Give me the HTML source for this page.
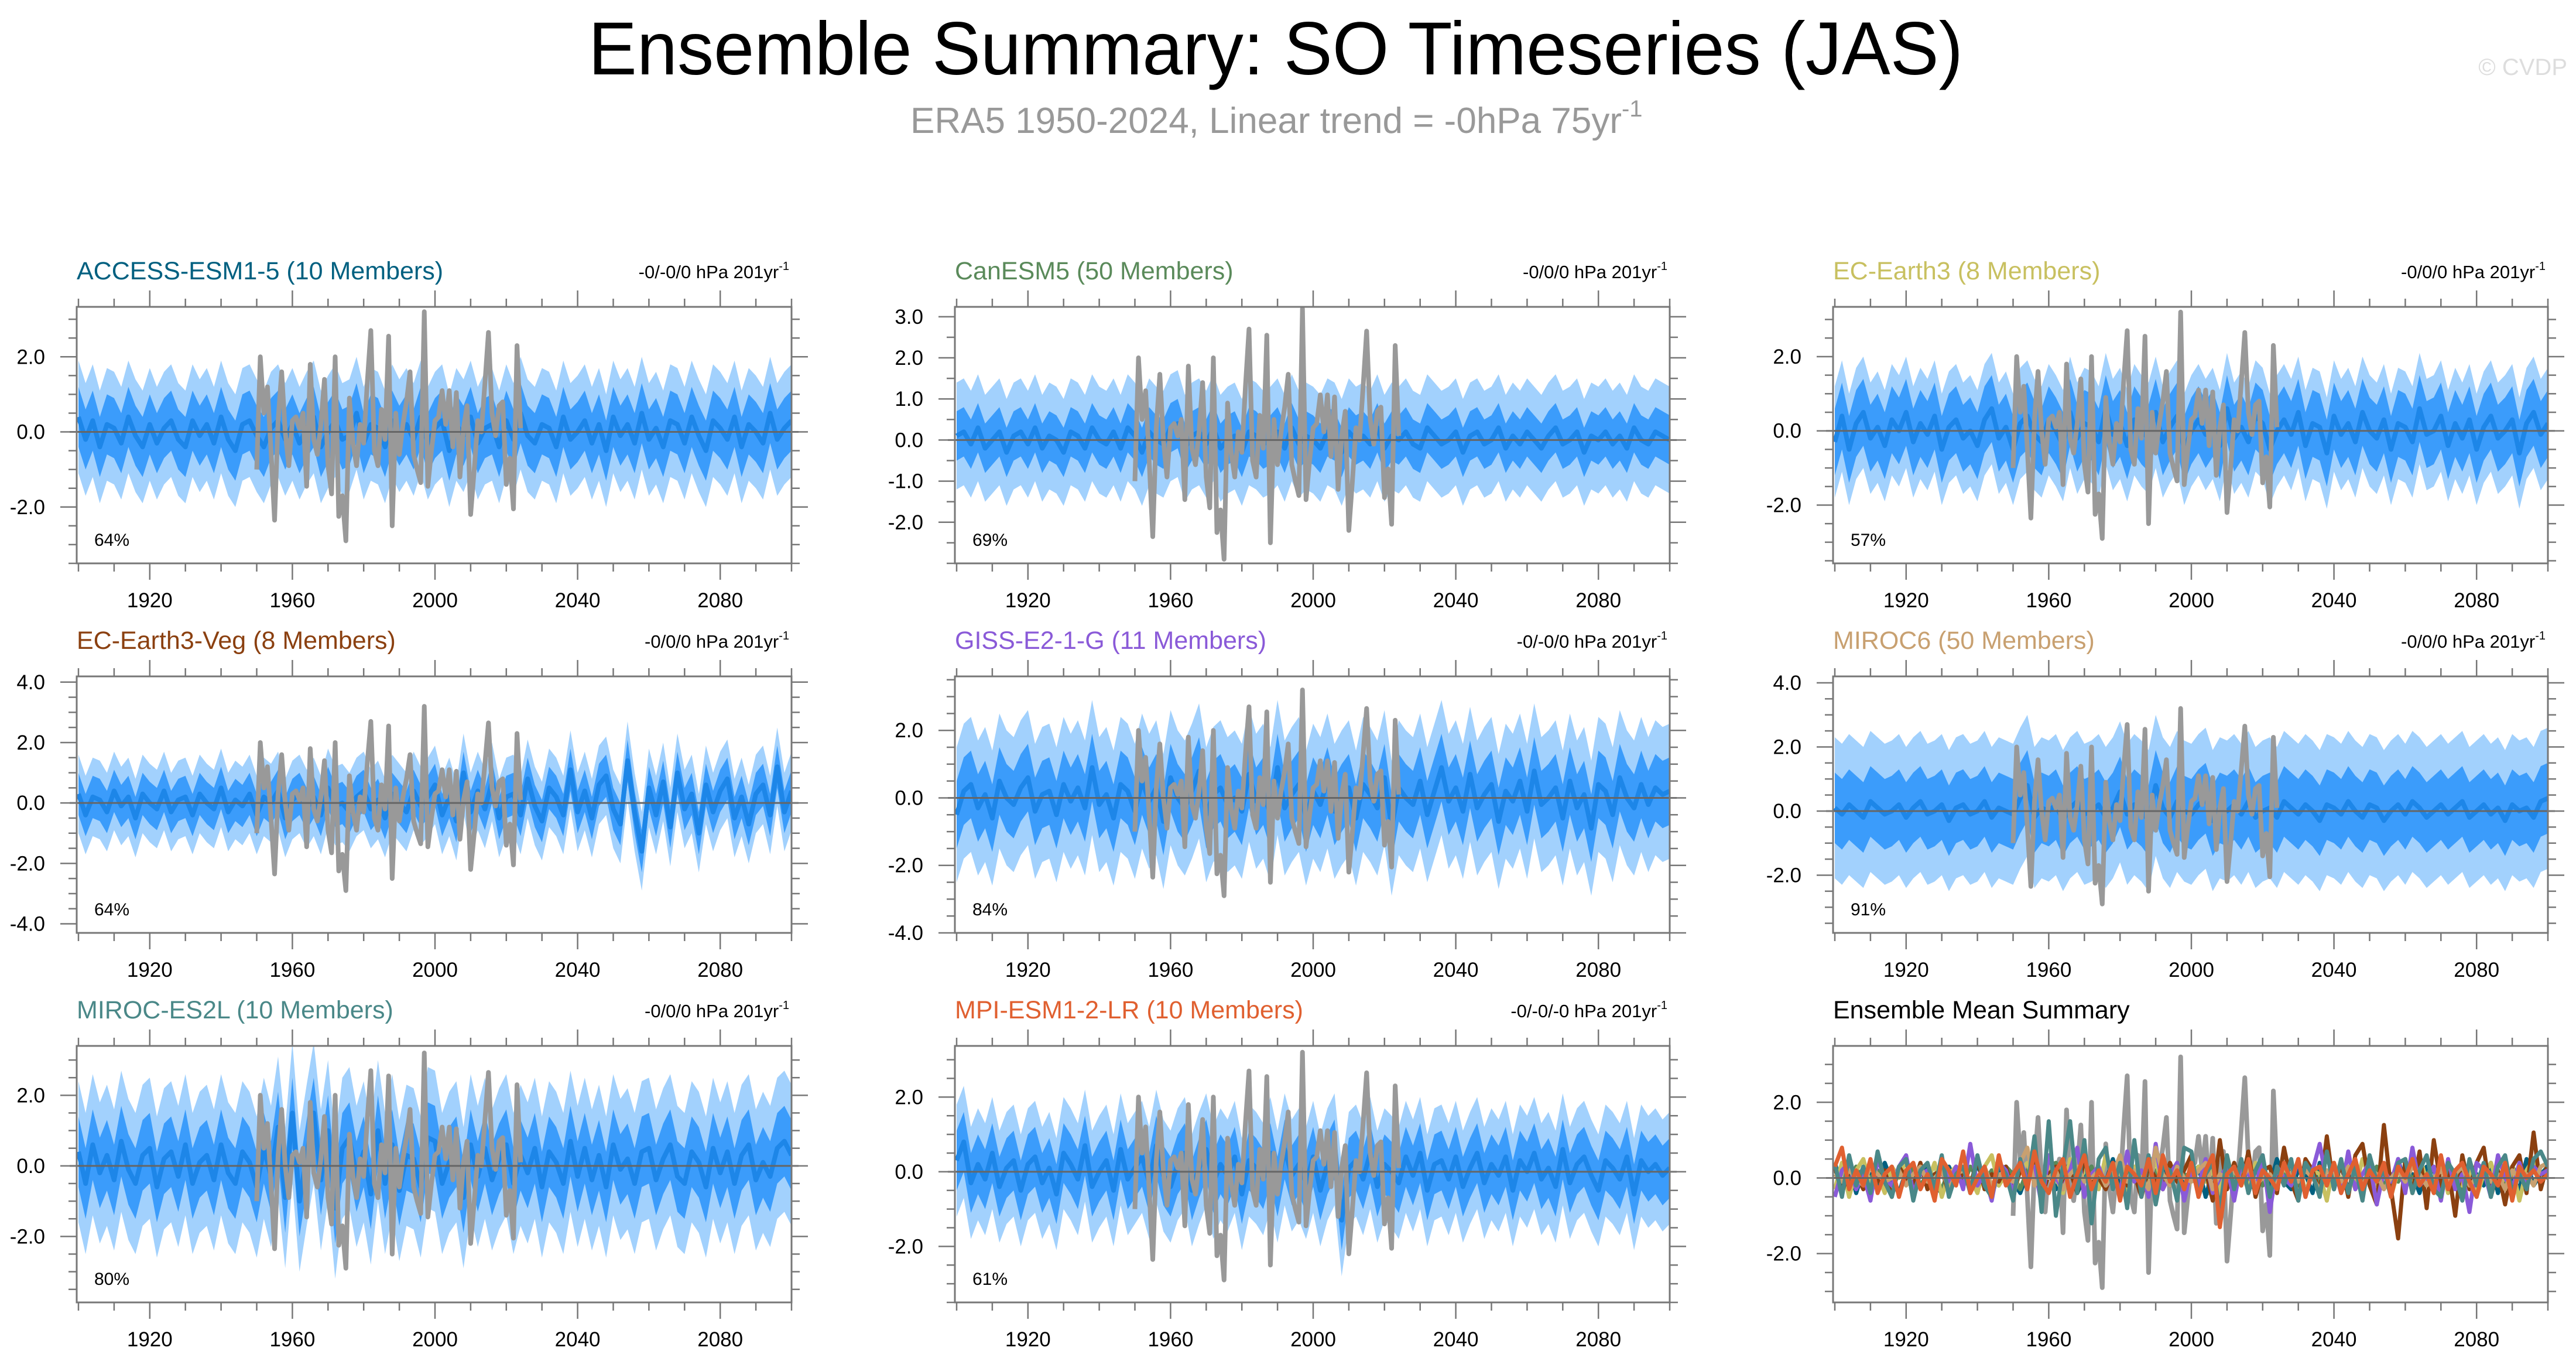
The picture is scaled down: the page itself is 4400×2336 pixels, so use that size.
<!DOCTYPE html>
<html><head><meta charset="utf-8">
<style>
html,body{margin:0;padding:0;background:#fff;}
svg{display:block;font-family:"Liberation Sans",sans-serif;}
</style></head>
<body>
<svg id="chart" xmlns="http://www.w3.org/2000/svg" width="4400" height="2336" viewBox="0 0 4400 2336">
<rect width="4400" height="2336" fill="#fff"/>
<text x="1005" y="127" font-size="128" textLength="2348" lengthAdjust="spacingAndGlyphs" fill="#000">Ensemble Summary: SO Timeseries (JAS)</text>
<text x="1555" y="227" font-size="62" fill="#999">ERA5 1950-2024, Linear trend = -0hPa 75yr<tspan font-size="40" dy="-28">-1</tspan></text>
<text x="4385" y="128" font-size="40" text-anchor="end" fill="#ddd">© CVDP</text>
<g id="panels"></g>
</svg>
<script>
const modelNames = ["ACCESS-ESM1-5 (10 Members)","CanESM5 (50 Members)","EC-Earth3 (8 Members)","EC-Earth3-Veg (8 Members)","GISS-E2-1-G (11 Members)","MIROC6 (50 Members)","MIROC-ES2L (10 Members)","MPI-ESM1-2-LR (10 Members)"];
const modelColors = ["#006080","#5a8a5a","#c8c060","#8b4010","#8a5ad8","#c8a070","#4a8888","#e06030"];
const trendLabels = ["-0/-0/0","-0/0/0","-0/0/0","-0/0/0","-0/-0/0","-0/0/0","-0/0/0","-0/-0/-0"];
const pctLabels = ["64%","69%","57%","64%","84%","91%","80%","61%"];
const innerSpread = [0.8,0.6,0.9,0.7,1.0,1.1,1.0,0.8];
const outerSpread = [1.5,1.3,1.5,1.3,2.0,2.2,2.0,1.5];
const yMins = [-3.5,-3.0,-3.57,-4.3,-4.0,-3.8,-3.87,-3.5,-3.29];
const yMaxs = [3.33,3.24,3.34,4.19,3.6,4.2,3.4,3.37,3.49];
const yTickSets = [[-2,0,2],[-2,-1,0,1,2,3],[-2,0,2],[-4,-2,0,2,4],[-4,-2,0,2],[-2,0,2,4],[-2,0,2],[-2,0,2],[-2,0,2]];
const xTickLabels = [1920,1960,2000,2040,2080];
const meanYearStart = 1900, meanYearStep = 2;
const obsYearStart = 1950;
const obsValues = [-1.0,2.0,0.5,1.2,-0.5,-2.35,0.3,1.6,0.0,-0.9,0.3,0.4,0.1,0.5,-1.45,1.8,-0.2,-0.6,0.2,1.4,-0.9,-1.65,2.0,-2.25,-1.7,-2.9,0.9,-0.3,-0.9,0.2,-0.3,1.3,2.7,-0.5,-0.9,0.6,-0.2,2.55,-2.5,0.5,-0.6,0.2,0.8,1.6,-0.6,-1.0,-1.35,3.2,-1.45,-0.5,0.3,0.4,1.1,0.2,1.1,-0.4,1.05,-1.2,0.1,0.7,-2.2,-1.0,0.3,0.0,1.3,2.65,0.5,-0.1,0.7,0.8,-1.4,-0.7,-2.05,2.3,0.1];
const meanACCESS = [0.4,-0.2,0.3,-0.4,0.2,0.1,-0.3,0.4,-0.1,-0.4,0.2,-0.3,0.1,0.3,-0.2,-0.4,0.3,-0.1,0.2,-0.3,0.4,-0.2,-0.5,0.2,0.3,-0.1,-0.4,0.1,0.3,-0.2,0.2,-0.3,0.1,0.4,-0.4,0.0,0.3,-0.2,-0.1,0.5,-0.3,0.2,0.1,-0.4,0.3,-0.1,0.2,-0.2,0.4,-0.3,0.1,0.3,-0.5,0.2,-0.1,0.4,-0.3,0.1,0.2,-0.4,0.3,-0.2,0.5,-0.1,-0.3,0.2,0.1,-0.4,0.4,-0.2,0.0,0.3,-0.3,0.2,-0.5,0.4,-0.1,0.2,-0.3,0.5,-0.2,0.1,-0.4,0.3,0.2,-0.3,0.4,-0.1,-0.5,0.3,0.1,-0.2,0.4,-0.4,0.2,0.0,-0.3,0.5,-0.2,0.1,0.3];
const meanCanESM5 = [0.1,0.2,-0.1,0.3,-0.2,0.0,0.2,-0.3,0.1,0.2,-0.1,0.3,-0.2,0.1,0.0,-0.3,0.2,0.1,-0.2,0.3,0.0,-0.1,0.2,-0.2,0.3,0.1,-0.3,0.2,0.0,-0.1,0.3,0.4,-0.2,0.1,0.2,-0.1,0.3,-0.2,0.0,0.1,-0.3,0.2,0.1,-0.1,0.0,0.2,-0.2,0.3,-0.1,0.1,0.0,-0.2,0.2,0.1,-0.3,0.2,0.0,0.1,-0.1,0.3,-0.2,0.1,0.0,0.2,-0.1,-0.2,0.3,0.1,-0.1,0.0,0.2,-0.3,0.1,0.2,-0.1,0.0,0.3,-0.2,0.1,-0.1,0.2,0.0,-0.2,0.1,0.3,-0.1,0.0,0.2,-0.3,0.1,0.0,0.2,-0.1,0.1,-0.2,0.3,0.0,-0.1,0.2,0.1,0.0];
const meanECEarth3 = [-0.3,0.4,-0.5,0.2,0.5,-0.2,0.1,-0.4,0.3,0.0,0.5,-0.3,0.2,-0.1,0.4,-0.5,0.1,0.3,-0.2,0.0,-0.4,0.3,0.6,-0.2,0.1,-0.5,0.2,0.4,-0.1,-0.3,0.3,0.0,-0.4,0.5,-0.2,0.2,0.1,-0.3,0.6,-0.1,0.2,-0.4,0.3,0.0,-0.2,0.5,-0.3,0.1,0.4,-0.5,0.0,0.3,-0.1,0.2,-0.4,0.6,-0.2,0.1,-0.3,0.4,0.2,-0.5,0.0,0.3,-0.1,0.5,-0.4,0.2,0.1,-0.6,0.4,-0.1,0.2,-0.3,0.5,0.0,-0.2,0.3,-0.5,0.2,0.1,-0.3,0.6,-0.1,0.0,0.4,-0.4,0.2,-0.2,0.3,-0.5,0.1,0.4,-0.2,0.0,0.3,-0.6,0.2,0.5,-0.1,0.2];
const meanECEarth3Veg = [0.3,-0.4,0.2,0.1,-0.3,0.4,-0.1,0.2,-0.5,0.3,0.0,-0.2,0.4,-0.3,0.1,0.2,-0.4,0.3,0.0,-0.2,0.5,-0.3,0.1,-0.1,0.3,-0.4,0.2,0.0,0.4,-0.5,0.1,0.3,-0.2,0.2,-0.4,0.5,-0.1,0.0,-0.3,0.2,0.4,-0.2,0.1,-0.5,0.3,0.0,-0.3,0.4,-0.1,0.2,0.6,-0.4,0.2,-0.6,1.0,-0.3,0.4,-0.2,0.7,-0.5,0.2,0.3,-0.4,0.8,-0.1,-0.6,0.5,0.2,-0.4,1.1,-0.3,0.4,-0.5,0.6,0.9,-0.2,-0.7,1.4,-0.3,-1.6,0.5,-0.4,0.7,-0.8,1.0,-0.2,0.3,-1.0,0.6,-0.3,0.4,0.8,-0.5,0.2,-0.7,0.3,0.6,-0.4,1.2,-0.3,0.4];
const meanGISS = [-0.5,0.2,0.4,-0.3,0.1,-0.6,0.5,0.0,-0.2,0.3,0.6,-0.4,0.1,0.2,-0.5,0.4,-0.1,0.3,-0.3,0.9,-0.2,0.1,-0.6,0.4,0.2,-0.4,0.5,-0.1,0.3,-0.7,0.6,0.0,-0.3,0.2,0.8,-0.5,0.1,0.3,-0.2,0.0,-0.4,0.7,-0.1,0.2,-0.5,0.9,-0.3,0.1,0.4,-0.6,0.2,-0.2,0.5,-0.4,0.0,0.3,-0.6,0.4,0.1,-0.3,0.6,-0.9,0.3,0.0,-0.2,0.5,-0.5,0.2,0.9,-0.1,0.3,-0.4,0.7,-0.3,0.1,0.4,-0.7,0.2,-0.1,0.5,-0.4,0.8,-0.2,0.0,0.3,-0.6,0.5,-0.3,0.1,-0.9,0.4,0.2,-0.5,0.6,0.0,-0.3,0.4,-0.2,0.3,0.1,0.2];
const meanMIROC6 = [0.1,-0.1,0.2,0.0,-0.2,0.3,0.1,-0.1,0.0,0.2,-0.2,0.1,0.3,-0.1,0.0,0.2,-0.3,0.1,0.2,-0.1,0.0,0.3,-0.2,0.1,0.0,-0.1,0.4,0.8,-0.2,0.1,0.0,0.2,-0.3,0.1,0.3,-0.1,0.0,0.2,-0.2,0.1,0.6,-0.1,0.2,0.0,-0.3,0.8,0.1,-0.2,0.3,0.0,-0.1,0.2,0.4,-0.3,0.1,0.0,0.2,-0.1,0.3,-0.2,0.0,0.1,-0.2,0.3,0.1,-0.1,0.2,0.0,-0.3,0.2,0.1,-0.1,0.3,0.0,-0.2,0.2,0.1,-0.3,0.0,0.2,-0.1,0.3,0.1,-0.2,0.0,0.2,-0.1,0.1,0.3,-0.2,0.0,0.2,-0.1,0.1,-0.3,0.2,0.0,0.1,-0.2,0.3,0.4];
const meanMIROCES2L = [0.4,-0.5,0.6,-0.2,0.3,-0.4,0.7,-0.1,-0.5,0.3,0.5,-0.6,0.2,0.4,-0.3,0.6,-0.5,0.1,0.3,-0.4,0.6,-0.2,-0.5,0.4,0.1,-0.6,0.5,-0.3,1.1,-0.9,1.5,-1.0,0.3,1.5,-0.4,1.0,-1.2,0.5,0.8,-0.3,0.4,-0.8,1.0,-0.5,0.6,-0.7,0.3,0.2,-0.6,0.8,0.7,-0.5,0.1,0.4,-0.9,0.6,-0.3,0.5,-0.4,0.2,0.6,-0.5,0.3,-0.2,0.5,-0.6,0.4,0.1,-0.5,0.7,-0.3,0.5,-0.4,0.3,-0.6,0.6,-0.1,0.2,-0.5,0.4,0.5,-0.4,0.2,0.6,-0.3,-0.5,0.4,0.1,-0.6,0.5,-0.2,0.4,-0.5,0.3,0.6,-0.4,0.1,-0.3,0.5,0.7,0.3];
const meanMPI = [0.3,0.8,-0.3,0.2,-0.2,0.5,-0.4,0.1,0.3,-0.5,0.2,0.4,-0.3,0.1,-0.6,0.5,0.2,-0.2,0.7,-0.4,0.0,0.3,-0.5,0.6,-0.2,0.1,0.4,-0.3,0.7,-0.1,-0.4,0.2,0.5,-0.5,0.1,0.6,-0.3,0.2,-0.1,0.4,-0.6,0.3,0.1,-0.2,0.5,-0.4,0.6,-0.1,0.2,-0.3,0.4,-0.5,0.2,0.6,-1.3,0.1,0.3,-0.2,0.5,-0.4,0.2,0.0,-0.3,0.4,-0.1,0.5,-0.5,0.2,0.3,-0.2,0.4,-0.4,0.1,0.5,-0.3,0.2,-0.1,0.4,-0.5,0.3,0.0,0.5,-0.2,0.1,-0.4,0.6,-0.3,0.2,0.4,-0.1,-0.5,0.3,0.1,-0.2,0.4,-0.6,0.3,0.0,0.2,-0.1,0.1];
const modelMeans = [meanACCESS,meanCanESM5,meanECEarth3,meanECEarth3Veg,meanGISS,meanMIROC6,meanMIROCES2L,meanMPI];

const NS = "http://www.w3.org/2000/svg";
const colX = [131,1631,3131], rowY = [524,1155,1786];
const PW = 1221, PH = 438;
const root = document.getElementById("panels");
function mk(tag, attrs, parent){ const e=document.createElementNS(NS,tag); for(const k in attrs) e.setAttribute(k,attrs[k]); (parent||root).appendChild(e); return e; }

for(let p=0;p<9;p++){
  const x0 = colX[p%3], y0 = rowY[Math.floor(p/3)];
  const ymin = yMins[p], ymax = yMaxs[p];
  const xs = yr => x0 + 3 + (yr-1900)/200*(PW-3);
  const ys = v => y0 + (ymax - v)/(ymax-ymin)*PH;
  const g = mk("g",{});
  
  
  const cp = mk("clipPath",{id:"cp"+p},g);
  mk("rect",{x:x0,y:y0,width:PW,height:PH},cp);
  const plot = mk("g",{"clip-path":"url(#cp"+p+")"},g);

  if(p<8){
    const m = modelMeans[p];
    const pts = (off) => m.map((v,i)=>xs(meanYearStart+i*meanYearStep).toFixed(1)+","+ys(v+off).toFixed(1));
    const band = (s) => { const up=pts(s), lo=pts(-s).reverse(); return "M"+up.join("L")+"L"+lo.join("L")+"Z"; };
    const ob = mk("path",{d:band(outerSpread[p]),fill:"#a2d1fd"},plot);
    
    
    const ib = mk("path",{d:band(innerSpread[p]),fill:"#3b9cfb"},plot);
    
    
    const ml = mk("polyline",{points:pts(0).join(" "),fill:"none",stroke:"#1d86e8","stroke-width":8,"stroke-linejoin":"round"},plot);
    
    
  }
  const obsPts = obsValues.map((v,i)=>xs(obsYearStart+i).toFixed(1)+","+ys(v).toFixed(1)).join(" ");
  const ol = mk("polyline",{points:obsPts,fill:"none",stroke:"#999","stroke-width":8,"stroke-linejoin":"round"},plot);
  
  
  if(p===8){
    for(let k=0;k<8;k++){
      const pts = modelMeans[k].map((v,i)=>xs(meanYearStart+i*meanYearStep).toFixed(1)+","+ys(v).toFixed(1)).join(" ");
      const l = mk("polyline",{points:pts,fill:"none",stroke:modelColors[k],"stroke-width":7,"stroke-linejoin":"round"},plot);
      
      
    }
  }
  mk("line",{x1:x0-12,x2:x0+PW+12,y1:ys(0),y2:ys(0),stroke:"#666","stroke-width":3},g);
  const fr = mk("rect",{x:x0,y:y0,width:PW,height:PH,fill:"none",stroke:"#777","stroke-width":3},g);
  
  
  for(let yr=1900;yr<=2100;yr+=10){
    const major = (yr-1920)%40===0;
    const L = major?28:14, X=xs(yr);
    mk("line",{x1:X,x2:X,y1:y0,y2:y0-L,stroke:"#777","stroke-width":2.5},g);
    mk("line",{x1:X,x2:X,y1:y0+PH,y2:y0+PH+L,stroke:"#777","stroke-width":2.5},g);
  }
  xTickLabels.forEach(yr=>{
    const t = mk("text",{x:xs(yr),y:y0+PH+75,"font-size":35,"text-anchor":"middle",fill:"#000"},g);
    t.textContent = yr;
    
    
  });
  for(let v=Math.ceil(ymin*2)/2; v<=ymax; v+=0.5){
    const major = yTickSets[p].some(t=>Math.abs(t-v)<1e-6);
    const L = major?28:14, Y=ys(v);
    mk("line",{x1:x0,x2:x0-L,y1:Y,y2:Y,stroke:"#777","stroke-width":2.5},g);
    mk("line",{x1:x0+PW,x2:x0+PW+L,y1:Y,y2:Y,stroke:"#777","stroke-width":2.5},g);
  }
  yTickSets[p].forEach(v=>{
    const t = mk("text",{x:x0-54,y:ys(v)+12,"font-size":35,"text-anchor":"end",fill:"#000"},g);
    t.textContent = v.toFixed(1);
    
    
  });
  const tt = mk("text",{x:x0,y:y0-47,"font-size":43,fill:p<8?modelColors[p]:"#000"},g);
  tt.textContent = p<8?modelNames[p]:"Ensemble Mean Summary";
  
  
  if(p<8){
    const tr = mk("text",{x:x0+PW-4,y:y0-49,"font-size":31,"text-anchor":"end",fill:"#000"},g);
    tr.textContent = trendLabels[p]+" hPa 201yr";
    const sup = mk("tspan",{"font-size":20,dy:-14},tr);
    sup.textContent = "-1";
    
    
    const pc = mk("text",{x:x0+30,y:y0+PH-30,"font-size":30,fill:"#000"},g);
    pc.textContent = pctLabels[p];
    
    
  }
}
</script>
</body></html>
